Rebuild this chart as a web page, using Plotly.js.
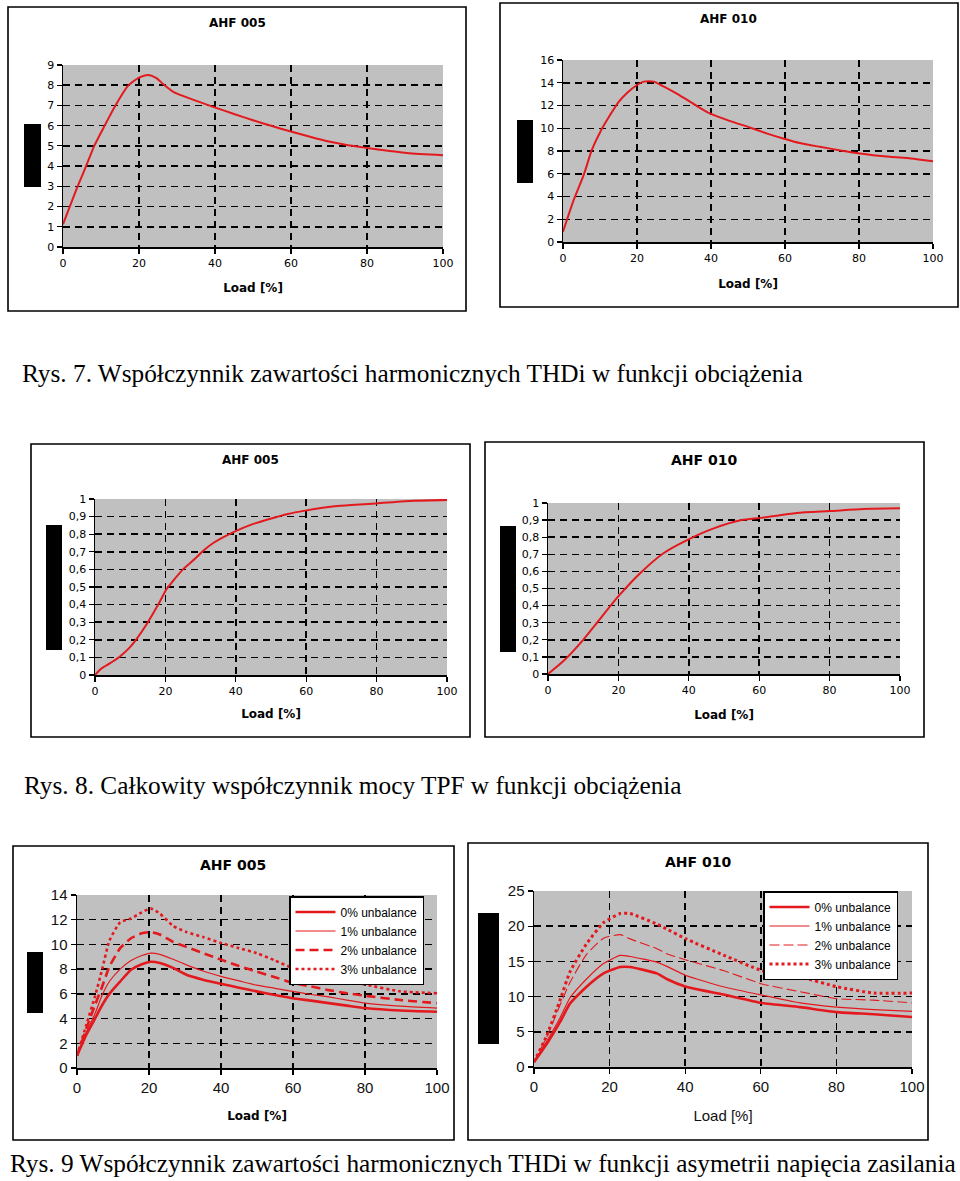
<!DOCTYPE html>
<html><head><meta charset="utf-8">
<script src="https://cdn.plot.ly/plotly-3.0.1.min.js"></script>
<style>html,body{margin:0;padding:0;background:#fff}#chart{width:960px;height:1181px}</style>
</head><body><div id="chart"></div>
<script>
// ---------- DATA ----------
const thd005Load = [0, 3.8, 6.0, 8.2, 10.9, 13.8, 17.1, 20, 22.4, 24.6, 26.4, 29.4, 34, 39.5, 45, 50, 55, 60.2, 65, 70.3, 75, 80, 90.5, 100];
const thd005 = [1.12, 2.97, 3.96, 4.99, 5.98, 7.0, 7.97, 8.38, 8.51, 8.35, 8.05, 7.63, 7.3, 6.93, 6.58, 6.27, 5.98, 5.7, 5.45, 5.2, 5.03, 4.9, 4.65, 4.54];

const thd010Load = [0, 2.9, 5.6, 7.8, 10.1, 12.8, 15, 17.3, 20, 21.8, 24.5, 27, 29.9, 33, 36.2, 39.7, 45, 50.5, 55, 59.5, 64, 69.4, 75, 80.2, 88.3, 94, 100];
const thd010 = [0.9, 3.7, 5.9, 8.1, 9.7, 11.2, 12.3, 13.1, 13.8, 14.1, 14.1, 13.7, 13.2, 12.6, 11.95, 11.3, 10.65, 10.07, 9.55, 9.1, 8.7, 8.37, 8.05, 7.78, 7.49, 7.35, 7.1];

const tpf005Load = [0, 1.9, 4.2, 7, 9.9, 12.1, 14.2, 16.5, 18.4, 20.3, 22.4, 25, 28.4, 31, 33.6, 39.8, 44.8, 49.8, 54.8, 59.7, 64.7, 69.7, 79.9, 90.5, 100];
const tpf005 = [0, 0.038, 0.066, 0.104, 0.157, 0.212, 0.274, 0.35, 0.416, 0.487, 0.54, 0.6, 0.66, 0.71, 0.75, 0.816, 0.857, 0.888, 0.915, 0.934, 0.95, 0.962, 0.975, 0.99, 0.995];

const tpf010Load = [0, 4.3, 10, 14.2, 19.9, 26.1, 32.7, 39.8, 46.9, 55, 60.4, 70.6, 80.1, 89.6, 100];
const tpf010 = [0, 0.074, 0.2, 0.307, 0.452, 0.588, 0.705, 0.786, 0.85, 0.9, 0.913, 0.942, 0.953, 0.965, 0.969];

const unb005Load = [0, 2.6, 5, 7, 9, 12, 15, 18, 20.5, 23, 26.7, 30.4, 35, 40.2, 45, 49.9, 55, 59.8, 65, 69.9, 75, 80.1, 89.8, 100];
const unb005_0 = [1.0, 2.7, 4.0, 5.1, 6.0, 7.0, 7.95, 8.4, 8.6, 8.5, 8.1, 7.55, 7.15, 6.8, 6.5, 6.2, 5.9, 5.65, 5.45, 5.25, 5.05, 4.85, 4.65, 4.55];
const unb005_1 = [1.0, 2.9, 4.4, 5.9, 7.0, 8.0, 8.7, 9.1, 9.3, 9.2, 8.8, 8.35, 7.85, 7.4, 7.05, 6.7, 6.45, 6.2, 5.95, 5.75, 5.5, 5.25, 5.0, 4.85];
const unb005_2 = [1.0, 3.2, 5.1, 6.6, 8.2, 9.7, 10.5, 10.9, 11.0, 10.8, 10.2, 9.8, 9.3, 8.75, 8.25, 7.8, 7.35, 6.9, 6.6, 6.3, 6.05, 5.85, 5.5, 5.25];
const unb005_3 = [1.0, 3.5, 5.8, 8.0, 10.3, 11.8, 12.1, 12.6, 12.9, 12.5, 11.5, 11.0, 10.6, 10.1, 9.7, 9.3, 8.7, 8.1, 7.7, 7.3, 7.0, 6.75, 6.2, 6.05];

const unb010Load = [0, 3.4, 6.9, 9.5, 13.9, 18.4, 22.8, 25.4, 32.5, 35.1, 40.2, 50.1, 60.3, 70.4, 80.1, 89.9, 100];
const unb010_0 = [0.7, 3.3, 6.4, 9.0, 11.4, 13.3, 14.2, 14.2, 13.3, 12.5, 11.4, 10.3, 9.1, 8.5, 7.8, 7.5, 7.1];
const unb010_1 = [0.7, 3.7, 7.0, 9.8, 12.5, 14.7, 15.85, 15.7, 14.9, 14.3, 13.0, 11.4, 10.2, 9.1, 8.5, 8.15, 7.9];
const unb010_2 = [0.7, 4.3, 8.8, 12.0, 16.0, 18.3, 18.8, 18.2, 16.8, 16.1, 15.2, 13.7, 11.8, 10.7, 9.7, 9.5, 9.1];
const unb010_3 = [0.7, 4.5, 9.5, 13.5, 17.5, 20.5, 21.8, 21.8, 20.3, 19.6, 18.2, 15.9, 13.7, 12.8, 11.4, 10.5, 10.5];

const seriesNames = ['0% unbalance', '1% unbalance', '2% unbalance', '3% unbalance'];
const chartTitles = ['AHF 005', 'AHF 010', 'AHF 005', 'AHF 010', 'AHF 005', 'AHF 010'];
const xTitle = 'Load [%]';
const xTicks = [0, 20, 40, 60, 80, 100];
const yTicks1 = [0, 1, 2, 3, 4, 5, 6, 7, 8, 9];
const yTicks2 = [0, 2, 4, 6, 8, 10, 12, 14, 16];
const yTicksTPF = [0, 0.1, 0.2, 0.3, 0.4, 0.5, 0.6, 0.7, 0.8, 0.9, 1];
const yTickTextTPF = ['0', '0,1', '0,2', '0,3', '0,4', '0,5', '0,6', '0,7', '0,8', '0,9', '1'];
const yTicks5 = [0, 2, 4, 6, 8, 10, 12, 14];
const yTicks6 = [0, 5, 10, 15, 20, 25];
const captions = [
  'Rys. 7. Współczynnik zawartości harmonicznych THDi w funkcji obciążenia',
  'Rys. 8. Całkowity współczynnik mocy TPF w funkcji obciążenia',
  'Rys. 9 Współczynnik zawartości harmonicznych THDi w funkcji asymetrii napięcia zasilania'
];

// ---------- LAYOUT HELPERS ----------
const W = 960, H = 1181;
const RED = '#e3191e';
const px = x => x / W;
const py = y => 1 - y / H;

function xAxis(x0, x1, anchor, tickFont, titleFont, standoff) {
  return {
    domain: [px(x0), px(x1)], anchor: anchor, range: [0, 100],
    tickvals: xTicks, ticks: 'outside', ticklen: 5, tickcolor: '#000', tickwidth: 1.2,
    showline: true, linecolor: '#000', linewidth: 1.5, zeroline: false,
    showgrid: true, gridcolor: '#000', gridwidth: 1.5, griddash: '7px,5px',
    tickfont: tickFont, fixedrange: true,
    title: {text: xTitle, font: titleFont, standoff: standoff}
  };
}
function yAxis(y0, y1, anchor, range, tv, tt, tickFont) {
  return {
    domain: [py(y1), py(y0)], anchor: anchor, range: range,
    tickvals: tv, ticktext: tt, ticks: 'outside', ticklen: 5, tickcolor: '#000', tickwidth: 1.2,
    showline: true, linecolor: '#000', linewidth: 1.5, zeroline: false,
    showgrid: true, gridcolor: '#000', gridwidth: 1.5, griddash: '7px,5px',
    tickfont: tickFont, fixedrange: true
  };
}

const smallTick = {family: 'DejaVu Sans', size: 11, color: '#000'};
const bigTick = {family: 'Liberation Sans', size: 15, color: '#111'};
const boldTitle = {family: 'DejaVu Sans', size: 12, color: '#000', weight: 'bold'};

const traces = [
  {x: thd005Load, y: thd005, xaxis: 'x', yaxis: 'y', mode: 'lines', line: {color: RED, width: 2, shape: 'spline', smoothing: 0.6}, showlegend: false},
  {x: thd010Load, y: thd010, xaxis: 'x2', yaxis: 'y2', mode: 'lines', line: {color: RED, width: 2, shape: 'spline', smoothing: 0.6}, showlegend: false},
  {x: tpf005Load, y: tpf005, xaxis: 'x3', yaxis: 'y3', mode: 'lines', line: {color: RED, width: 2, shape: 'spline', smoothing: 0.6}, showlegend: false},
  {x: tpf010Load, y: tpf010, xaxis: 'x4', yaxis: 'y4', mode: 'lines', line: {color: RED, width: 2, shape: 'spline', smoothing: 0.6}, showlegend: false},
];
const s5 = [unb005_0, unb005_1, unb005_2, unb005_3];
const st5 = [{width: 2.6, dash: 'solid'}, {width: 1.2, dash: 'solid'}, {width: 2.6, dash: '9px,5px'}, {width: 2.6, dash: 'dot'}];
s5.forEach((s, i) => traces.push({x: unb005Load, y: s, xaxis: 'x5', yaxis: 'y5', mode: 'lines', name: seriesNames[i], legend: 'legend',
  line: Object.assign({color: RED, shape: 'spline', smoothing: 0.5}, st5[i])}));
const s6 = [unb010_0, unb010_1, unb010_2, unb010_3];
const st6 = [{width: 2.6, dash: 'solid'}, {width: 1.2, dash: 'solid'}, {width: 1.1, dash: '10px,4px'}, {width: 3, dash: 'dot'}];
s6.forEach((s, i) => traces.push({x: unb010Load, y: s, xaxis: 'x6', yaxis: 'y6', mode: 'lines', name: seriesNames[i], legend: 'legend2',
  line: Object.assign({color: RED, shape: 'spline', smoothing: 0.5}, st6[i])}));

const frames = [[8, 7, 466, 311], [500, 3, 958, 307], [31, 444, 470, 737], [485, 442, 924, 737], [13, 846, 454, 1140], [468, 843, 928, 1140]];
const boxes = [[24, 124, 41, 187], [517, 120, 533, 183], [46, 525, 62, 650], [500, 526, 516, 652], [27, 952, 43, 1013], [478, 913, 499, 1044]];
const shapes = [];
frames.forEach(f => shapes.push({type: 'rect', xref: 'paper', yref: 'paper', x0: px(f[0]), x1: px(f[2]), y0: py(f[3]), y1: py(f[1]), line: {color: '#000', width: 1.6}, fillcolor: 'rgba(0,0,0,0)'}));
boxes.forEach(b => shapes.push({type: 'rect', xref: 'paper', yref: 'paper', x0: px(b[0]), x1: px(b[2]), y0: py(b[3]), y1: py(b[1]), line: {width: 0}, fillcolor: '#000'}));

const titlePos = [[237, 23, 12], [728, 19, 12], [250, 460, 12], [704, 460, 14], [233, 865, 14], [698, 862, 14]];
const annotations = titlePos.map((t, i) => ({xref: 'paper', yref: 'paper', x: px(t[0]), y: py(t[1]), xanchor: 'center', yanchor: 'middle', showarrow: false,
  text: '<b>' + chartTitles[i] + '</b>', font: {family: 'DejaVu Sans', size: t[2], color: '#000'}}));
const capPos = [[20, 373], [22, 785], [8, 1163]];
capPos.forEach((c, i) => annotations.push({xref: 'paper', yref: 'paper', x: px(c[0]), y: py(c[1]), xanchor: 'left', yanchor: 'middle', showarrow: false,
  text: captions[i], font: {family: 'Liberation Serif', size: 25.3, color: '#000'}}));

const legendFont = {family: 'Liberation Sans', size: 12, color: '#000'};
const layout = {
  width: W, height: H, margin: {l: 0, r: 0, t: 0, b: 0},
  paper_bgcolor: '#fff', plot_bgcolor: '#c0c0c0', showlegend: true,
  xaxis: xAxis(63, 443, 'y', smallTick, boldTitle, 15),
  yaxis: yAxis(65, 247, 'x', [0, 9], yTicks1, yTicks1.map(String), smallTick),
  xaxis2: xAxis(563, 933, 'y2', smallTick, boldTitle, 16),
  yaxis2: yAxis(60, 242, 'x2', [0, 16], yTicks2, yTicks2.map(String), smallTick),
  xaxis3: xAxis(95, 447, 'y3', smallTick, boldTitle, 13),
  yaxis3: yAxis(499, 675, 'x3', [0, 1], yTicksTPF, yTickTextTPF, smallTick),
  xaxis4: xAxis(548, 900, 'y4', smallTick, boldTitle, 15),
  yaxis4: yAxis(503, 674, 'x4', [0, 1], yTicksTPF, yTickTextTPF, smallTick),
  xaxis5: xAxis(77, 437, 'y5', bigTick, boldTitle, 17),
  yaxis5: yAxis(895, 1068, 'x5', [0, 14], yTicks5, yTicks5.map(String), bigTick),
  xaxis6: xAxis(534, 912, 'y6', bigTick, {family: 'Liberation Sans', size: 15, color: '#111'}, 17),
  yaxis6: yAxis(891, 1067, 'x6', [0, 25], yTicks6, yTicks6.map(String), bigTick),
  legend: {x: px(289), y: py(896), xanchor: 'left', yanchor: 'top', bgcolor: '#fff', bordercolor: '#000', borderwidth: 1.5,
    font: legendFont, tracegroupgap: 0, itemwidth: 40},
  legend2: {x: px(763), y: py(891), xanchor: 'left', yanchor: 'top', bgcolor: '#fff', bordercolor: '#000', borderwidth: 1.5,
    font: legendFont, tracegroupgap: 0, itemwidth: 40},
  shapes: shapes, annotations: annotations
};

Plotly.newPlot('chart', traces, layout, {staticPlot: true, displayModeBar: false});
</script></body></html>
